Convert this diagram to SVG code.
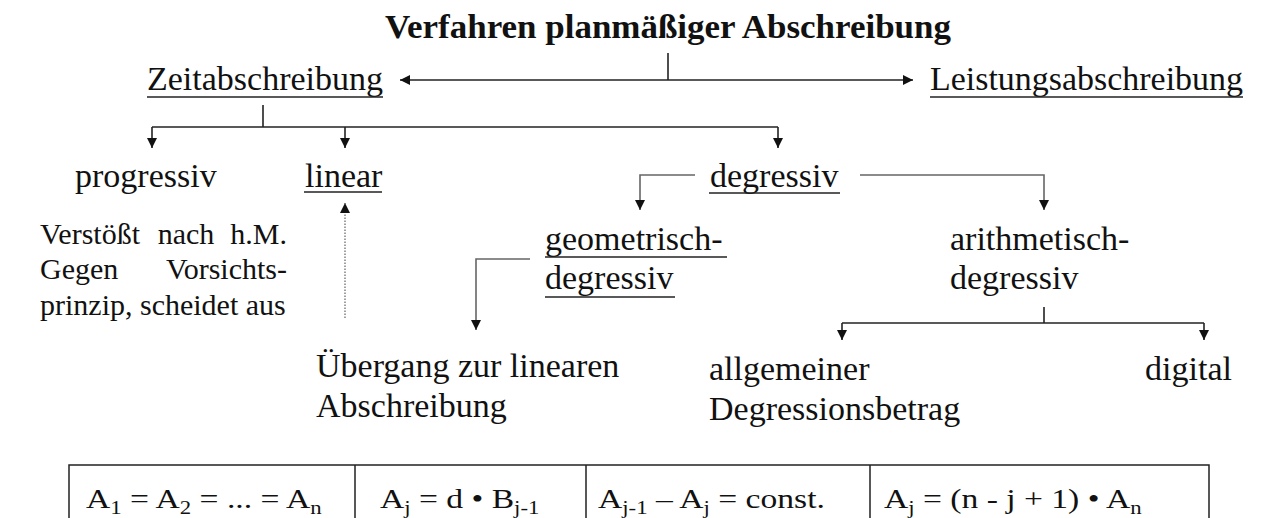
<svg xmlns="http://www.w3.org/2000/svg" width="1262" height="518" viewBox="0 0 1262 518" font-family="'Liberation Serif','Times New Roman',serif">
<style>
text{font-family:"Liberation Serif","Times New Roman",serif;fill:#111;font-size:34px}
.title{font-weight:bold}
.p{font-size:30px}
.f{font-size:28px}
.sub{font-size:19px}
.ul{stroke:#222;stroke-width:1.5;fill:none}
.c{stroke:#222;stroke-width:1.6;fill:none}
.g{stroke:#666;stroke-width:1.6;fill:none}
.dot{stroke:#777;stroke-width:1.4;fill:none;stroke-dasharray:1.5 1.5}
.tb{stroke:#222;stroke-width:1.5;fill:none}
</style>
<defs>
<marker id="ah" viewBox="0 0 10 12" refX="10" refY="6" markerWidth="10" markerHeight="12" orient="auto-start-reverse" markerUnits="userSpaceOnUse"><path d="M0,1 L10,6 L0,11 z" fill="#111"/></marker>
</defs>
<rect width="1262" height="518" fill="#fff"/>

<g id="title"><text class="title" x="385" y="38" textLength="566" lengthAdjust="spacingAndGlyphs">Verfahren planmäßiger Abschreibung</text></g>

<g id="connectors">
<path class="c" d="M668,53 V80"/>
<path class="c" d="M400,80 H913" marker-start="url(#ah)" marker-end="url(#ah)"/>
<path class="c" d="M263,105 V127"/>
<path class="c" d="M152,127 H778"/>
<path class="c" d="M152,127 V148" marker-end="url(#ah)"/>
<path class="c" d="M345,127 V148" marker-end="url(#ah)"/>
<path class="c" d="M778,127 V148" marker-end="url(#ah)"/>
<path class="g" d="M695,175 H640 V210" marker-end="url(#ah)"/>
<path class="g" d="M860,175 H1044 V210" marker-end="url(#ah)"/>
<path class="dot" d="M345,318 V203" marker-end="url(#ah)"/>
<path class="g" d="M530,259 H476 V330" marker-end="url(#ah)"/>
<path class="c" d="M1044,307 V323"/>
<path class="c" d="M842,323 H1204"/>
<path class="c" d="M842,323 V340" marker-end="url(#ah)"/>
<path class="c" d="M1204,323 V340" marker-end="url(#ah)"/>
</g>

<g id="zeit"><text x="147" y="90" textLength="236" lengthAdjust="spacingAndGlyphs">Zeitabschreibung</text><path class="ul" d="M147,97 H383"/></g>
<g id="leistung"><text x="930" y="90" textLength="313" lengthAdjust="spacingAndGlyphs">Leistungsabschreibung</text><path class="ul" d="M930,97 H1243"/></g>
<g id="progressiv"><text x="75" y="187">progressiv</text></g>
<g id="linear"><text x="305" y="187">linear</text><path class="ul" d="M304,192 H382"/></g>
<g id="degressiv"><text x="710" y="187">degressiv</text><path class="ul" d="M709,193 H840"/></g>
<g id="geometrisch"><text x="545" y="250">geometrisch-</text><path class="ul" d="M545,257 H727"/><text x="545" y="289">degressiv</text><path class="ul" d="M545,297 H675"/></g>
<g id="arithmetisch"><text x="950" y="250">arithmetisch-</text><text x="950" y="289">degressiv</text></g>
<g id="note">
<text class="p" x="40" y="244">Verstößt</text><text class="p" x="186" y="244" text-anchor="middle">nach</text><text class="p" x="287" y="244" text-anchor="end">h.M.</text>
<text class="p" x="40" y="279">Gegen</text><text class="p" x="287" y="279" text-anchor="end">Vorsichts-</text>
<text class="p" x="40" y="315">prinzip, scheidet aus</text>
</g>
<g id="uebergang"><text x="316" y="377">Übergang zur linearen</text><text x="316" y="417">Abschreibung</text></g>
<g id="allgemeiner"><text x="709" y="380">allgemeiner</text><text x="709" y="420">Degressionsbetrag</text></g>
<g id="digital"><text x="1232" y="380" text-anchor="end">digital</text></g>

<g id="table">
<path class="tb" d="M69,530 V465 H1209 V530 M355,465 V530 M586,465 V530 M870,465 V530"/>
<g transform="translate(86,508) scale(1.2,1)"><text class="f">A<tspan class="sub" dy="6">1</tspan><tspan dy="-6"> = A</tspan><tspan class="sub" dy="6">2</tspan><tspan dy="-6"> = ... = A</tspan><tspan class="sub" dy="6">n</tspan></text></g>
<g transform="translate(380,508) scale(1.2,1)"><text class="f">A<tspan class="sub" dy="6">j</tspan><tspan dy="-6"> = d • B</tspan><tspan class="sub" dy="6">j-1</tspan></text></g>
<g transform="translate(598,508) scale(1.2,1)"><text class="f">A<tspan class="sub" dy="6">j-1</tspan><tspan dy="-6"> – A</tspan><tspan class="sub" dy="6">j</tspan><tspan dy="-6"> = const.</tspan></text></g>
<g transform="translate(884,508) scale(1.2,1)"><text class="f">A<tspan class="sub" dy="6">j</tspan><tspan dy="-6"> = (n - j + 1) • A</tspan><tspan class="sub" dy="6">n</tspan></text></g>
</g>
</svg>
